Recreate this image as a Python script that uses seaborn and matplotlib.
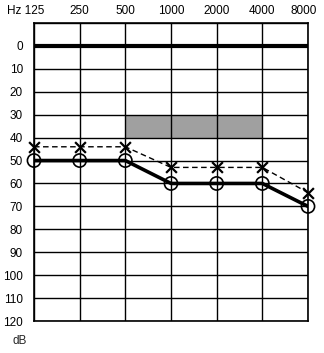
import matplotlib
matplotlib.use("Agg")
import matplotlib.pyplot as plt
import matplotlib.transforms as mtransforms
import seaborn as sns
import pandas as pd
import numpy as np

freqs = ["125", "250", "500", "1000", "2000", "4000", "8000"]
air_right = [50, 50, 50, 60, 60, 60, 70]      # circles
air_left = [44, 44, 44, 53, 53, 53, 64]       # crosses
db_ticks = [0, 10, 20, 30, 40, 50, 60, 70, 80, 90, 100, 110, 120]
shade_from, shade_to = "500", "4000"
shade_db = (30, 40)

sns.set_style("white")
plt.rcParams['font.family'] = ['Liberation Sans', 'DejaVu Sans']

fig = plt.figure(figsize=(3.24, 3.53), dpi=100)
ax = fig.add_axes([34/324, 1-321/353, 274/324, 298/353])

xpos = list(range(len(freqs)))
df = pd.DataFrame({"x": xpos + xpos,
                   "db": air_right + air_left,
                   "ear": ["O"] * len(xpos) + ["X"] * len(xpos)})
dfx = df[df.ear == "X"]
dfo = df[df.ear == "O"]

i0, i1 = freqs.index(shade_from), freqs.index(shade_to)
ax.fill_between([i0, i1], shade_db[0], shade_db[1], color="#a0a0a0", lw=0, zorder=1)

for y in range(-10, 121, 10):
    ax.axhline(y, color="black", lw=1.0, zorder=2)
for x in xpos:
    ax.axvline(x, color="black", lw=1.0, zorder=2)
ax.axhline(0, color="black", lw=3.0, zorder=3)

sns.lineplot(data=dfx, x="x", y="db", ax=ax, color="black",
             lw=1.0, linestyle=(0, (4, 2.5)), zorder=4)
sns.lineplot(data=dfo, x="x", y="db", ax=ax, color="black",
             lw=2.6, zorder=5)
sns.scatterplot(data=dfx, x="x", y="db", ax=ax, marker="x", s=60,
                color="black", linewidths=1.6, zorder=6, clip_on=False)
sns.scatterplot(data=dfo, x="x", y="db", ax=ax, marker="o", s=90,
                facecolors="none", edgecolors="black", linewidths=1.2,
                zorder=7, clip_on=False)

ax.set_xlim(0, 6)
ax.set_ylim(120, -10)
ax.set_xticks(xpos)
ax.set_xticklabels(["Hz 125"] + freqs[1:])
ax.xaxis.tick_top()
ax.set_yticks(db_ticks)
ax.set_yticklabels([str(v) for v in db_ticks])
ax.tick_params(axis="both", length=0, labelsize=8.5, colors="black")
ax.tick_params(axis="y", pad=8)
ax.tick_params(axis="x", pad=4)
first = ax.get_xticklabels()[0]
first.set_transform(first.get_transform() + mtransforms.ScaledTranslation(-8/100, 0, fig.dpi_scale_trans))
last = ax.get_xticklabels()[-1]
last.set_transform(last.get_transform() + mtransforms.ScaledTranslation(-4/100, 0, fig.dpi_scale_trans))
ax.set_xlabel("")
ax.set_ylabel("")
for s in ax.spines.values():
    s.set_color("black")
    s.set_linewidth(1.2)
fig.text(20/324, 1-341/353, "dB", fontsize=8.5, ha="center", va="center")

fig.savefig("out.png", dpi=100)
